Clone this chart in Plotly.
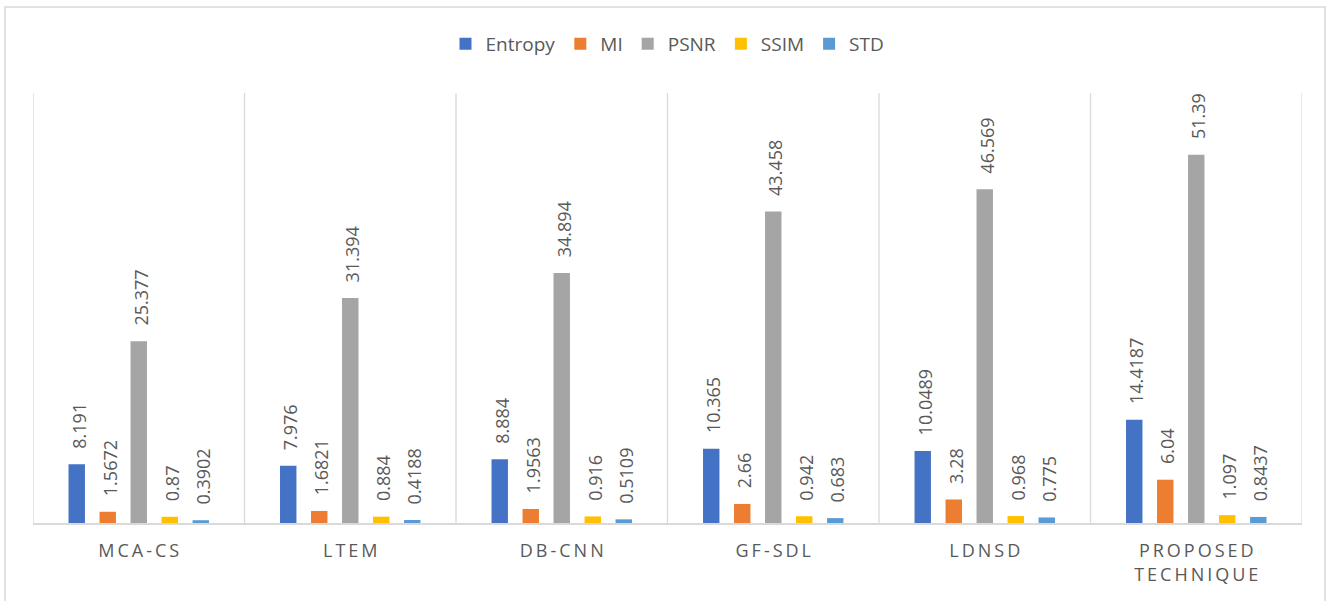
import plotly.graph_objects as go

# Image fusion quality metrics per method
methods = ["MCA-CS", "LTEM", "DB-CNN", "GF-SDL", "LDNSD", "PROPOSED TECHNIQUE"]
entropy = [8.191, 7.976, 8.884, 10.365, 10.0489, 14.4187]
mi = [1.5672, 1.6821, 1.9563, 2.66, 3.28, 6.04]
psnr = [25.377, 31.394, 34.894, 43.458, 46.569, 51.39]
ssim = [0.87, 0.884, 0.916, 0.942, 0.968, 1.097]
std = [0.3902, 0.4188, 0.5109, 0.683, 0.775, 0.8437]

series = [
    ("Entropy", entropy, "#4472C4"),
    ("MI", mi, "#ED7D31"),
    ("PSNR", psnr, "#A5A5A5"),
    ("SSIM", ssim, "#FFC000"),
    ("STD", std, "#5B9BD5"),
]

TEXT = "#595959"
GRID = "#D9D9D9"
FONT = "Open Sans"
# invisible lead-in that keeps value labels clear of the bar tops
PAD = '<span style="font-size:22px;color:rgba(0,0,0,0)">0</span>'


def spaced(label):
    # letter-spaced category captions, wrapped on words
    return "<br>".join("\u2009".join(word) for word in label.split(" "))


fig = go.Figure()
for name, vals, color in series:
    fig.add_trace(go.Bar(
        name=name,
        x=methods,
        y=vals,
        marker=dict(color=color, line=dict(width=0)),
        text=[PAD + str(v) for v in vals],
        textposition="outside",
        textangle=-90,
        constraintext="none",
        cliponaxis=False,
        textfont=dict(family=FONT, size=18, color=TEXT),
        hoverinfo="skip",
    ))

shapes = []
# category separators
for i in range(len(methods) + 1):
    shapes.append(dict(type="line", xref="x", yref="y",
                       x0=i - 0.5, x1=i - 0.5, y0=0, y1=60,
                       line=dict(color=GRID, width=1.3), layer="below"))
# chart frame
shapes.append(dict(type="rect", xref="paper", yref="paper",
                   x0=-0.0221, x1=1.0181, y0=-0.3, y1=1.2,
                   line=dict(color=GRID, width=1.5), layer="below"))

fig.update_layout(
    width=1330, height=601,
    margin=dict(l=33, r=28, t=93, b=78),
    paper_bgcolor="white", plot_bgcolor="white",
    barmode="group", bargap=0.267, bargroupgap=0.47,
    font=dict(family=FONT, color=TEXT),
    showlegend=True,
    legend=dict(orientation="h", x=0.5, xanchor="center", y=1.114, yanchor="middle",
                font=dict(family=FONT, size=19, color=TEXT),
                itemclick=False, traceorder="normal"),
    shapes=shapes,
    xaxis=dict(
        tickmode="array", tickvals=methods, ticktext=[spaced(m) for m in methods],
        tickfont=dict(family=FONT, size=18, color=TEXT),
        showgrid=False, zeroline=False,
        showline=True, linecolor=GRID, linewidth=1.5,
        ticks="outside", ticklen=11, tickcolor="rgba(0,0,0,0)",
        range=[-0.5, len(methods) - 0.5],
    ),
    yaxis=dict(range=[0, 60], visible=False, showgrid=False, zeroline=False),
)

fig.write_html("out.html")
